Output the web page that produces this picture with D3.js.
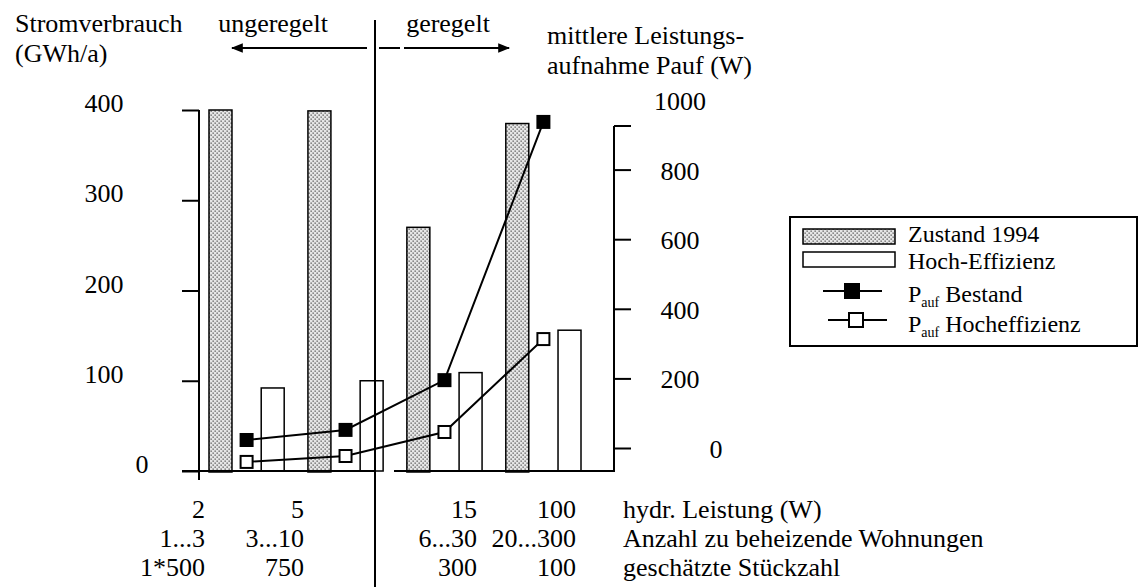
<!DOCTYPE html>
<html>
<head>
<meta charset="utf-8">
<script src="https://cdn.jsdelivr.net/npm/d3@7"></script>
<style>
  body { margin: 0; background: #fff; }
  text { font-family: "Liberation Serif", "Times New Roman", serif; fill: #000; }
</style>
</head>
<body>
<div id="my_dataviz"></div>
<script>
// data
var groups = ["2", "5", "15", "100"]
var zustand1994 = [400, 399, 270, 385]      // GWh/a, left axis
var hochEffizienz = [92, 100, 109, 156]     // GWh/a, left axis
var paufBestand = [23, 52, 195, 937]        // W, right axis
var paufHoch = [-40, -23, 46, 313]          // W, right axis
var rowHydr = ["2", "5", "15", "100"]
var rowWohnungen = ["1...3", "3...10", "6...30", "20...300"]
var rowStueck = ["1*500", "750", "300", "100"]
var rowTitles = ["hydr. Leistung (W)", "Anzahl zu beheizende Wohnungen", "geschätzte Stückzahl"]
var leftTicks = [0, 100, 200, 300, 400]
var rightTicks = [0, 200, 400, 600, 800, 1000]

var width = 1141
var height = 587
var fs = 26
var dividerX = 375

var svg = d3.select("#my_dataviz")
  .append("svg")
    .attr("width", width)
    .attr("height", height)
    .attr("font-family", "Liberation Serif, Times New Roman, serif")

// stipple pattern for the 1994 bars
var defs = svg.append("defs")
var pat = defs.append("pattern")
    .attr("id", "dots")
    .attr("patternUnits", "userSpaceOnUse")
    .attr("width", 4).attr("height", 4)
pat.append("rect").attr("width", 4).attr("height", 4).attr("fill", "#e6e6e6")
pat.append("rect").attr("x", 0.5).attr("y", 0.5).attr("width", 1.3).attr("height", 1.3).attr("fill", "#555")
pat.append("rect").attr("x", 2.5).attr("y", 2.5).attr("width", 1.3).attr("height", 1.3).attr("fill", "#555")

// scales
var x = d3.scaleBand().domain(groups).range([209, 581]).paddingInner(0.24)
var xi = d3.scaleBand().domain(["z", "h"]).range([0, x.bandwidth()]).paddingInner(0.56)
var y = d3.scaleLinear().domain([0, 400]).range([471, 110])
var y2 = d3.scaleLinear().domain([0, 1000]).range([448, 100])
var px = g => x(g) + x.bandwidth() / 2

// bars
svg.append("g")
  .selectAll("rect")
  .data(groups)
  .join("rect")
    .attr("x", d => x(d) + xi("z"))
    .attr("y", (d, i) => y(zustand1994[i]))
    .attr("width", xi.bandwidth())
    .attr("height", (d, i) => y(0) - y(zustand1994[i]) + 1)
    .attr("fill", "url(#dots)")
    .attr("stroke", "#000")
    .attr("stroke-width", 1.5)

svg.append("g")
  .selectAll("rect")
  .data(groups)
  .join("rect")
    .attr("x", d => x(d) + xi("h"))
    .attr("y", (d, i) => y(hochEffizienz[i]))
    .attr("width", xi.bandwidth())
    .attr("height", (d, i) => y(0) - y(hochEffizienz[i]))
    .attr("fill", "#fff")
    .attr("stroke", "#000")
    .attr("stroke-width", 1.5)

// left axis
var axL = svg.append("g").attr("transform", "translate(199,0)")
  .call(d3.axisLeft(y).tickValues(leftTicks).tickSize(17).tickFormat("").tickSizeOuter(0))
axL.select(".domain").remove()
axL.selectAll("line").attr("stroke", "#000").attr("stroke-width", 2)
svg.append("line").attr("x1", 199).attr("x2", 199).attr("y1", y(400)).attr("y2", 480)
  .attr("stroke", "#000").attr("stroke-width", 2)
svg.append("g")
  .selectAll("text")
  .data(leftTicks)
  .join("text")
    .attr("x", d => d === 0 ? 142 : 104)
    .attr("y", d => y(d) + 2)
    .attr("text-anchor", "middle")
    .attr("font-size", fs)
    .text(d => d)

// baseline
svg.append("line").attr("x1", 182).attr("x2", dividerX).attr("y1", y(0)).attr("y2", y(0))
  .attr("stroke", "#000").attr("stroke-width", 2)
svg.append("line").attr("x1", dividerX + 19).attr("x2", 614).attr("y1", y(0)).attr("y2", y(0))
  .attr("stroke", "#000").attr("stroke-width", 2)

// right axis
var axR = svg.append("g").attr("transform", "translate(614,0)")
  .call(d3.axisRight(y2).tickValues(rightTicks.slice(0, 5)).tickSize(17).tickFormat("").tickSizeOuter(0))
axR.select(".domain").remove()
axR.selectAll("line").attr("stroke", "#000").attr("stroke-width", 2)
svg.append("line").attr("x1", 614).attr("x2", 614).attr("y1", 126).attr("y2", 472)
  .attr("stroke", "#000").attr("stroke-width", 2)
svg.append("line").attr("x1", 614).attr("x2", 631).attr("y1", 126).attr("y2", 126)
  .attr("stroke", "#000").attr("stroke-width", 2)
svg.append("g")
  .selectAll("text")
  .data(rightTicks)
  .join("text")
    .attr("x", d => d === 0 ? 716 : 680)
    .attr("y", d => y2(d) + 10)
    .attr("text-anchor", "middle")
    .attr("font-size", fs)
    .text(d => d)

// lines with square markers
var line = d3.line().x(d => px(d.g)).y(d => y2(d.v))
var bestand = groups.map((g, i) => ({ g: g, v: paufBestand[i] }))
var hoch = groups.map((g, i) => ({ g: g, v: paufHoch[i] }))

svg.append("path").datum(bestand).attr("d", line)
  .attr("fill", "none").attr("stroke", "#000").attr("stroke-width", 2)
svg.append("path").datum(hoch).attr("d", line)
  .attr("fill", "none").attr("stroke", "#000").attr("stroke-width", 2)

svg.append("g").selectAll("rect").data(bestand).join("rect")
  .attr("x", d => px(d.g) - 7).attr("y", d => y2(d.v) - 7)
  .attr("width", 14).attr("height", 14)
  .attr("fill", "#000")
svg.append("g").selectAll("rect").data(hoch).join("rect")
  .attr("x", d => px(d.g) - 6).attr("y", d => y2(d.v) - 6)
  .attr("width", 12).attr("height", 12)
  .attr("fill", "#fff").attr("stroke", "#000").attr("stroke-width", 2)

// divider and regime arrows
svg.append("line").attr("x1", dividerX).attr("x2", dividerX).attr("y1", 20).attr("y2", height)
  .attr("stroke", "#000").attr("stroke-width", 2)

defs.append("marker")
    .attr("id", "arrow")
    .attr("viewBox", "0 0 10 10")
    .attr("refX", 9).attr("refY", 5)
    .attr("markerWidth", 6).attr("markerHeight", 6)
    .attr("markerUnits", "strokeWidth")
    .attr("orient", "auto")
  .append("path").attr("d", "M0,1 L10,5 L0,9 z").attr("fill", "#000")

svg.append("line").attr("x1", 367).attr("x2", 232).attr("y1", 48).attr("y2", 48)
  .attr("stroke", "#000").attr("stroke-width", 2).attr("marker-end", "url(#arrow)")
svg.append("line").attr("x1", 379).attr("x2", 400).attr("y1", 48).attr("y2", 48)
  .attr("stroke", "#000").attr("stroke-width", 2)
svg.append("line").attr("x1", 404).attr("x2", 509).attr("y1", 48).attr("y2", 48)
  .attr("stroke", "#000").attr("stroke-width", 2).attr("marker-end", "url(#arrow)")

// titles
function label(tx, ty, str, anchor, size) {
  return svg.append("text").attr("x", tx).attr("y", ty)
    .attr("text-anchor", anchor || "start").attr("font-size", size || fs).text(str)
}
label(15, 32, "Stromverbrauch")
label(15, 62, "(GWh/a)")
label(273, 32, "ungeregelt", "middle")
label(448, 32, "geregelt", "middle")
label(547, 44, "mittlere Leistungs-")
label(547, 74, "aufnahme Pauf (W)")

// table under the chart
var rows = [rowHydr, rowWohnungen, rowStueck]
var rowY = [518, 547, 576]
rows.forEach(function(row, r) {
  svg.append("g").selectAll("text").data(row).join("text")
    .attr("x", (d, i) => i < 2 ? x(groups[i]) - 4 : x(groups[i]) + x.bandwidth() - 5)
    .attr("y", rowY[r])
    .attr("text-anchor", "end")
    .attr("font-size", fs)
    .text(d => d)
  label(623, rowY[r], rowTitles[r])
})

// legend
var lfs = 24
var lg = svg.append("g")
lg.append("rect").attr("x", 790).attr("y", 217).attr("width", 347).attr("height", 129)
  .attr("fill", "#fff").attr("stroke", "#000").attr("stroke-width", 2)
lg.append("rect").attr("x", 803).attr("y", 229).attr("width", 92).attr("height", 15)
  .attr("fill", "url(#dots)").attr("stroke", "#000").attr("stroke-width", 1.5)
lg.append("rect").attr("x", 803).attr("y", 252).attr("width", 92).attr("height", 15)
  .attr("fill", "#fff").attr("stroke", "#000").attr("stroke-width", 1.5)
lg.append("line").attr("x1", 823).attr("x2", 882).attr("y1", 291).attr("y2", 291)
  .attr("stroke", "#000").attr("stroke-width", 2)
lg.append("rect").attr("x", 844).attr("y", 283).attr("width", 16).attr("height", 16).attr("fill", "#000")
lg.append("line").attr("x1", 828).attr("x2", 887).attr("y1", 320).attr("y2", 320)
  .attr("stroke", "#000").attr("stroke-width", 2)
lg.append("rect").attr("x", 849).attr("y", 313).attr("width", 14).attr("height", 14)
  .attr("fill", "#fff").attr("stroke", "#000").attr("stroke-width", 2)

label(908, 242, "Zustand 1994", "start", lfs)
label(908, 269, "Hoch-Effizienz", "start", lfs)
function subLabel(ty, rest) {
  var t = svg.append("text").attr("x", 908).attr("y", ty).attr("font-size", lfs)
  t.append("tspan").text("P")
  t.append("tspan").attr("font-size", 14).attr("dy", 5).text("auf")
  t.append("tspan").attr("dy", -5).text(" " + rest)
}
subLabel(302, "Bestand")
subLabel(332, "Hocheffizienz")
</script>
</body>
</html>
